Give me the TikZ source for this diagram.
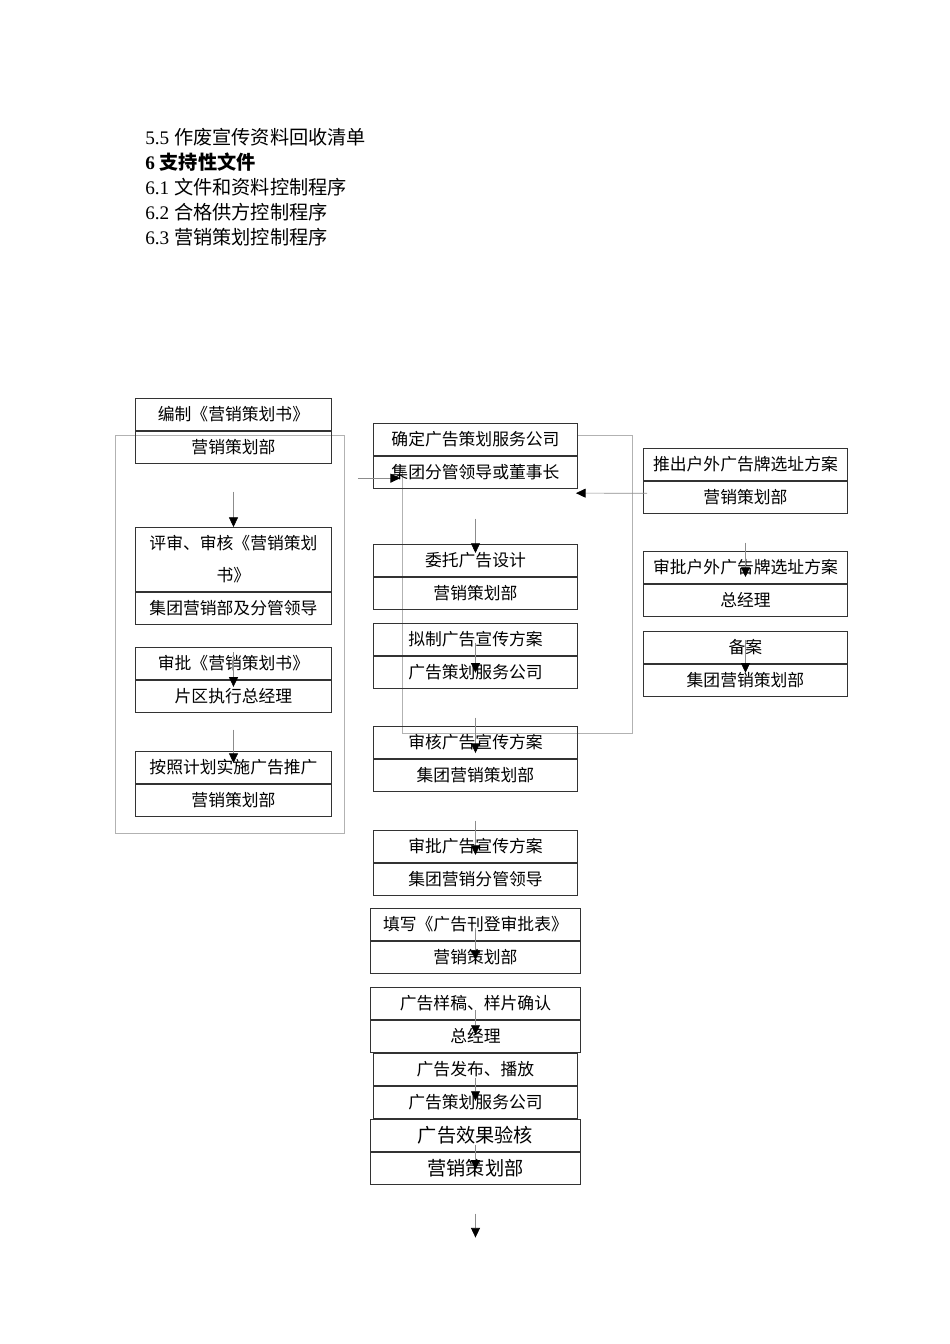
\documentclass[tikz,border=0pt]{standalone}
\usepackage{fontspec}
\setmainfont{Liberation Serif}
\newfontfamily\cjk{Noto Sans CJK SC}
\usetikzlibrary{arrows.meta, positioning}

\begin{document}
\begin{tikzpicture}[x=0.625pt, y=-0.625pt, node distance=0pt,
    stage/.style={draw=black!80, line width=0.6pt, minimum width=127.5pt, minimum height=19.9pt,
      inner sep=0pt, font=\cjk\fontsize{10.5}{12.6}\selectfont},
    narrow/.style={minimum width=122.5pt},
    wide/.style={minimum width=131.25pt},
    flow/.style={draw=black!45, line width=0.4pt, -{Triangle[black, length=6pt, width=5.6pt]}},
    frame/.style={draw=black!30, line width=0.5pt}]
        \useasboundingbox (0,0) rectangle (950,1344);

        % supporting documents
        \node[anchor=north west, inner sep=0pt, align=left, font=\fontsize{12}{15.6}\selectfont] (docs) at (145,128)
          {5.5 {\cjk 作废宣传资料回收清单}\\ \textbf{6 {\cjk 支持性文件}}\\ 6.1 {\cjk 文件和资料控制程序}\\
           6.2 {\cjk 合格供方控制程序}\\ 6.3 {\cjk 营销策划控制程序}};

        % grey frames
        \draw[frame] (115,435) rectangle (344,833);
        \draw[frame] (577,435) -- (632,435) -- (632,733) -- (402,733) -- (402,470);

        % left column
        \node[stage, narrow, anchor=north west] (l1) at (135,398) {编制《营销策划书》};
        \node[stage, narrow, below=of l1] (l1b) {营销策划部};
        \node[stage, narrow, anchor=north west, minimum height=40pt, align=center,
          font=\cjk\fontsize{10.5}{20}\selectfont] (l2) at (135,527) {评审、审核《营销策划\\书》};
        \node[stage, narrow, below=of l2] (l2b) {集团营销部及分管领导};
        \node[stage, narrow, anchor=north west] (l3) at (135,647) {审批《营销策划书》};
        \node[stage, narrow, below=of l3] (l3b) {片区执行总经理};
        \node[stage, narrow, anchor=north west] (l4) at (135,751) {按照计划实施广告推广};
        \node[stage, narrow, below=of l4] (l4b) {营销策划部};

        % middle column
        \node[stage, anchor=north west] (m1) at (373,423) {确定广告策划服务公司};
        \node[stage, below=of m1] (m1b) {集团分管领导或董事长};
        \node[stage, anchor=north west] (m2) at (373,544) {委托广告设计};
        \node[stage, below=of m2] (m2b) {营销策划部};
        \node[stage, anchor=north west] (m3) at (373,623) {拟制广告宣传方案};
        \node[stage, below=of m3] (m3b) {广告策划服务公司};
        \node[stage, anchor=north west] (m4) at (373,726) {审核广告宣传方案};
        \node[stage, below=of m4] (m4b) {集团营销策划部};
        \node[stage, anchor=north west] (m5) at (373,830) {审批广告宣传方案};
        \node[stage, below=of m5] (m5b) {集团营销分管领导};
        \node[stage, wide, anchor=north west] (m6) at (370,908) {填写《广告刊登审批表》};
        \node[stage, wide, below=of m6] (m6b) {营销策划部};
        \node[stage, wide, anchor=north west] (m7) at (370,987) {广告样稿、样片确认};
        \node[stage, wide, below=of m7] (m7b) {总经理};
        \node[stage, anchor=north west] (m8) at (373,1053) {广告发布、播放};
        \node[stage, below=of m8] (m8b) {广告策划服务公司};
        \node[stage, wide, anchor=north west, font=\cjk\fontsize{12}{14}\selectfont] (m9) at (370,1119) {广告效果验核};
        \node[stage, wide, below=of m9, font=\cjk\fontsize{12}{14}\selectfont] (m9b) {营销策划部};

        % right column
        \node[stage, anchor=north west] (r1) at (643,448) {推出户外广告牌选址方案};
        \node[stage, below=of r1] (r1b) {营销策划部};
        \node[stage, anchor=north west] (r2) at (643,551) {审批户外广告牌选址方案};
        \node[stage, below=of r2] (r2b) {总经理};
        \node[stage, anchor=north west] (r3) at (643,631) {备案};
        \node[stage, below=of r3] (r3b) {集团营销策划部};

        % arrows
        \draw[flow] ([yshift=-17.5pt]l1b.south) -- (l2.north);
        \draw[flow] ([yshift=-3.1pt]l3.north) -- ([yshift=-4.4pt]l3b.north);
        \draw[flow] ([yshift=-10.6pt]l3b.south) -- ([yshift=-7.5pt]l4.north);
        \draw[flow] ([yshift=-18.75pt]m1b.south) -- ([yshift=-5.6pt]m2.north);
        \draw[flow] ([yshift=-12.5pt]m3.north) -- ([yshift=-10.6pt]m3b.north);
        \draw[flow] ([yshift=-18.1pt]m3b.south) -- ([yshift=-16.9pt]m4.north);
        \draw[flow] ([yshift=-18.1pt]m4b.south) -- ([yshift=-15.6pt]m5.north);
        \draw[flow] ([yshift=-12.5pt]m6.north) -- ([yshift=-11.9pt]m6b.north);
        \draw[flow] ([yshift=-14.4pt]m7.north) -- ([yshift=-9.4pt]m7b.north);
        \draw[flow] ([yshift=-15.6pt]m8.north) -- ([yshift=-9.4pt]m8b.north);
        \draw[flow] ([yshift=-16.25pt]m9.north) -- ([yshift=-11.25pt]m9b.north);
        \draw[flow] ([yshift=-18.1pt]m9b.south) -- ([yshift=-33.1pt]m9b.south);
        \draw[flow] ([xshift=-9.4pt, yshift=-3.75pt]m1b.west) -- ([xshift=16.9pt, yshift=-3.75pt]m1b.west);
        \draw[flow] ([xshift=2.5pt, yshift=2.5pt]r1b.west) -- ([xshift=-1.25pt, yshift=-13.1pt]m1b.east);
        \draw[flow] ([yshift=-18.1pt]r1b.south) -- ([yshift=-16.25pt]r2.north);
        \draw[flow] ([yshift=-5.6pt]r3.north) -- ([yshift=-5.6pt]r3b.north);
      \end{tikzpicture}
\end{document}
